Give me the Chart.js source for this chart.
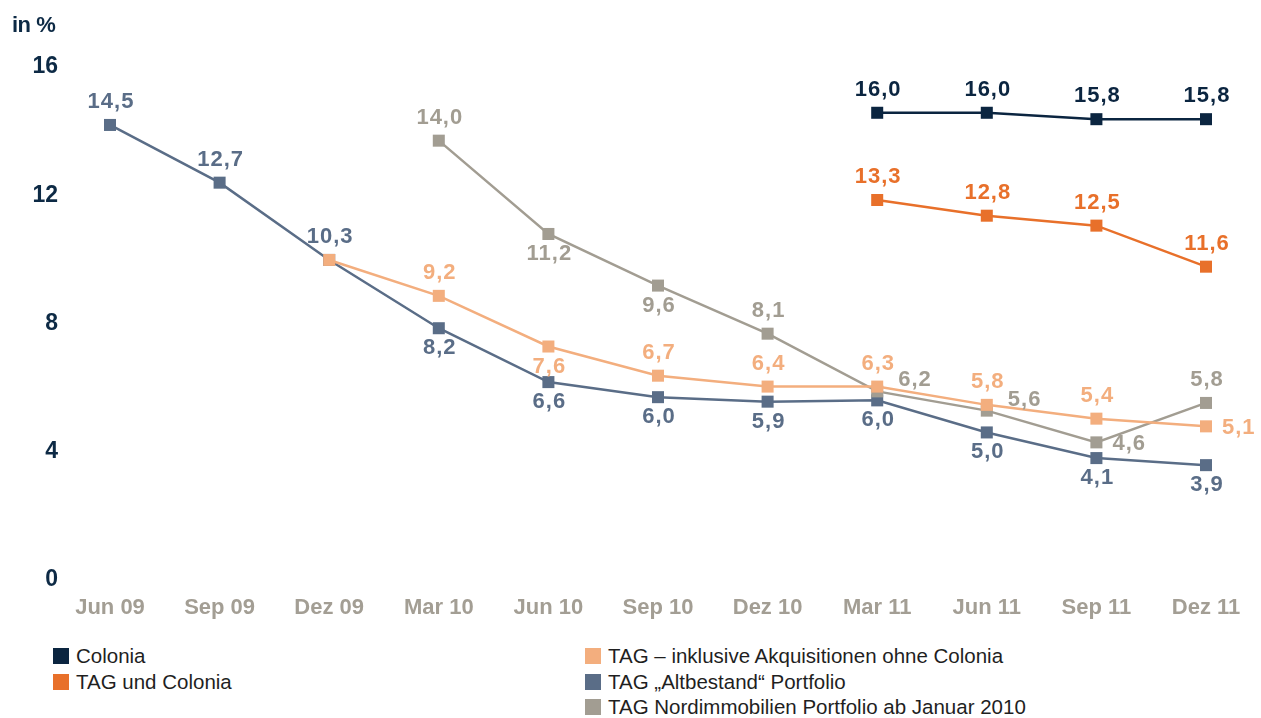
<!DOCTYPE html>
<html>
<head>
<meta charset="utf-8">
<script src="https://cdn.jsdelivr.net/npm/chart.js@4.4.1/dist/chart.umd.min.js"></script>
<style>
  body { margin: 0; background: #fff; width: 1261px; height: 718px; position: relative; overflow: hidden; }
  #chart { position: absolute; left: 0; top: 0; }
  #unit { position: absolute; left: 12px; top: 12px; font: bold 22px "Liberation Sans", Arial, sans-serif; color: #0d2a45; letter-spacing: -0.5px; }
  .item { position: absolute; height: 26px; line-height: 26px; font: 20.5px "Liberation Sans", Arial, sans-serif; color: #1f1f1f; white-space: nowrap; }
  .item span { position: absolute; left: 0; top: 4px; width: 16px; height: 16px; }
  .item b { font-weight: normal; position: absolute; left: 23px; top: 0; }
</style>
</head>
<body>
<canvas id="chart" width="1261" height="643"></canvas>
<div id="unit">in %</div>
<div id="legend"></div>
<script>
// quarters on the x axis
const quarters = ['Jun 09', 'Sep 09', 'Dez 09', 'Mar 10', 'Jun 10', 'Sep 10', 'Dez 10', 'Mar 11', 'Jun 11', 'Sep 11', 'Dez 11'];
const yTicks = [0, 4, 8, 12, 16];

// where each point sits on the y axis
const colonia      = [null, null, null, null, null, null, null, 14.51, 14.51, 14.31, 14.31];
const tagColonia   = [null, null, null, null, null, null, null, 11.79, 11.30, 10.99, 9.71];
const akquisition  = [null, null, 9.92, 8.80, 7.22, 6.31, 5.97, 5.97, 5.40, 4.97, 4.73];
const altbestand   = [14.13, 12.33, 9.92, 7.79, 6.11, 5.64, 5.50, 5.54, 4.54, 3.74, 3.52];
const nordimmo     = [null, null, null, 13.64, 10.73, 9.12, 7.62, 5.82, 5.22, 4.23, 5.46];

// printed figures next to the points
const coloniaFig     = [null, null, null, null, null, null, null, 16.0, 16.0, 15.8, 15.8];
const tagColoniaFig  = [null, null, null, null, null, null, null, 13.3, 12.8, 12.5, 11.6];
const akquisitionFig = [null, null, null, 9.2, 7.6, 6.7, 6.4, 6.3, 5.8, 5.4, 5.1];
const altbestandFig  = [14.5, 12.7, 10.3, 8.2, 6.6, 6.0, 5.9, 6.0, 5.0, 4.1, 3.9];
const nordimmoFig    = [null, null, null, 14.0, 11.2, 9.6, 8.1, 6.2, 5.6, 4.6, 5.8];

// label placement: a = above, b = below, r = right, ru = right and a bit up
const coloniaPos     = ['', '', '', '', '', '', '', 'a', 'a', 'a', 'a'];
const tagColoniaPos  = ['', '', '', '', '', '', '', 'a', 'a', 'a', 'a'];
const akquisitionPos = ['', '', '', 'a', 'b', 'a', 'a', 'a', 'a', 'a', 'r'];
const altbestandPos  = ['a', 'a', 'a', 'b', 'b', 'b', 'b', 'b', 'b', 'b', 'b'];
const nordimmoPos    = ['', '', '', 'a', 'b', 'b', 'a', 'ru', 'ru', 'r', 'a'];

function series(label, data, figures, placement, color, order) {
    return {
        label, data, figures, placement, order,
        borderColor: color,
        backgroundColor: color,
        pointBackgroundColor: color,
        borderWidth: 2.5,
        pointStyle: 'rect',
        pointRadius: 8.5,
        pointHoverRadius: 8.5,
        pointBorderWidth: 0,
        tension: 0,
        clip: false
    };
}

const datasets = [
    series('Colonia', colonia, coloniaFig, coloniaPos, '#0b2540', 0),
    series('TAG und Colonia', tagColonia, tagColoniaFig, tagColoniaPos, '#e8702a', 0),
    series('TAG \u2013 inklusive Akquisitionen ohne Colonia', akquisition, akquisitionFig, akquisitionPos, '#f3ae7e', 1),
    series('TAG \u201EAltbestand\u201C Portfolio', altbestand, altbestandFig, altbestandPos, '#5a6d87', 3),
    series('TAG Nordimmobilien Portfolio ab Januar 2010', nordimmo, nordimmoFig, nordimmoPos, '#a29d92', 2)
];

const valueLabels = {
    id: 'valueLabels',
    afterDatasetsDraw(chart) {
        const ctx = chart.ctx;
        ctx.save();
        ctx.font = 'bold 22px "Liberation Sans", Arial, sans-serif';
        ctx.letterSpacing = '1px';
        ctx.textBaseline = 'middle';
        chart.data.datasets.forEach((ds, i) => {
            const meta = chart.getDatasetMeta(i);
            meta.data.forEach((pt, j) => {
                const v = ds.figures[j];
                if (v == null) return;
                const text = v.toFixed(1).replace('.', ',');
                const p = ds.placement[j];
                ctx.fillStyle = ds.borderColor;
                let x = pt.x, y = pt.y;
                if (p === 'a') { ctx.textAlign = 'center'; y -= 23; x += 1; }
                else if (p === 'b') { ctx.textAlign = 'center'; y += 20; x += 1; }
                else if (p === 'r') { ctx.textAlign = 'left'; x += 16; y += 2; }
                else if (p === 'ru') { ctx.textAlign = 'left'; x += 21; y -= 11; }
                ctx.fillText(text, x, y);
            });
        });
        ctx.restore();
    }
};

const tickFont = { family: '"Liberation Sans", Arial, sans-serif', size: 22, weight: 'bold' };

const chart = new Chart(document.getElementById('chart').getContext('2d'), {
    type: 'line',
    data: { labels: quarters, datasets },
    options: {
        responsive: false,
        animation: false,
        layout: { padding: { top: 65, right: 55, bottom: 0, left: 0 } },
        plugins: {
            legend: { display: false },
            tooltip: { enabled: false }
        },
        scales: {
            x: {
                offset: false,
                grid: { display: false },
                border: { display: false },
                ticks: {
                    color: '#a39e94',
                    font: tickFont,
                    padding: 9,
                    maxRotation: 0,
                    autoSkip: false
                },
                afterFit(scale) { scale.height = 65; }
            },
            y: {
                min: 0,
                max: 16,
                afterBuildTicks(scale) { scale.ticks = yTicks.map(v => ({ value: v })); },
                grid: { display: false },
                border: { display: false },
                ticks: {
                    color: '#0d2a45',
                    font: { family: '"Liberation Sans", Arial, sans-serif', size: 23, weight: 'bold' },
                    padding: 44,
                    labelOffset: 2
                },
                afterFit(scale) { scale.width = 110; }
            }
        }
    },
    plugins: [valueLabels]
});

// two column legend under the chart
const legend = document.getElementById('legend');
const legendCols = [[0, 1], [2, 3, 4]];
const colLeft = [53, 585];
const rowTop = [644, 669.5, 695];
legendCols.forEach((col, c) => {
    col.forEach((di, r) => {
        const ds = datasets[di];
        const item = document.createElement('div');
        item.className = 'item';
        item.style.left = colLeft[c] + 'px';
        item.style.top = rowTop[r] + 'px';
        item.innerHTML = '<span style="background:' + ds.borderColor + '"></span><b></b>';
        item.querySelector('b').textContent = ds.label;
        legend.appendChild(item);
    });
});
</script>
</body>
</html>
